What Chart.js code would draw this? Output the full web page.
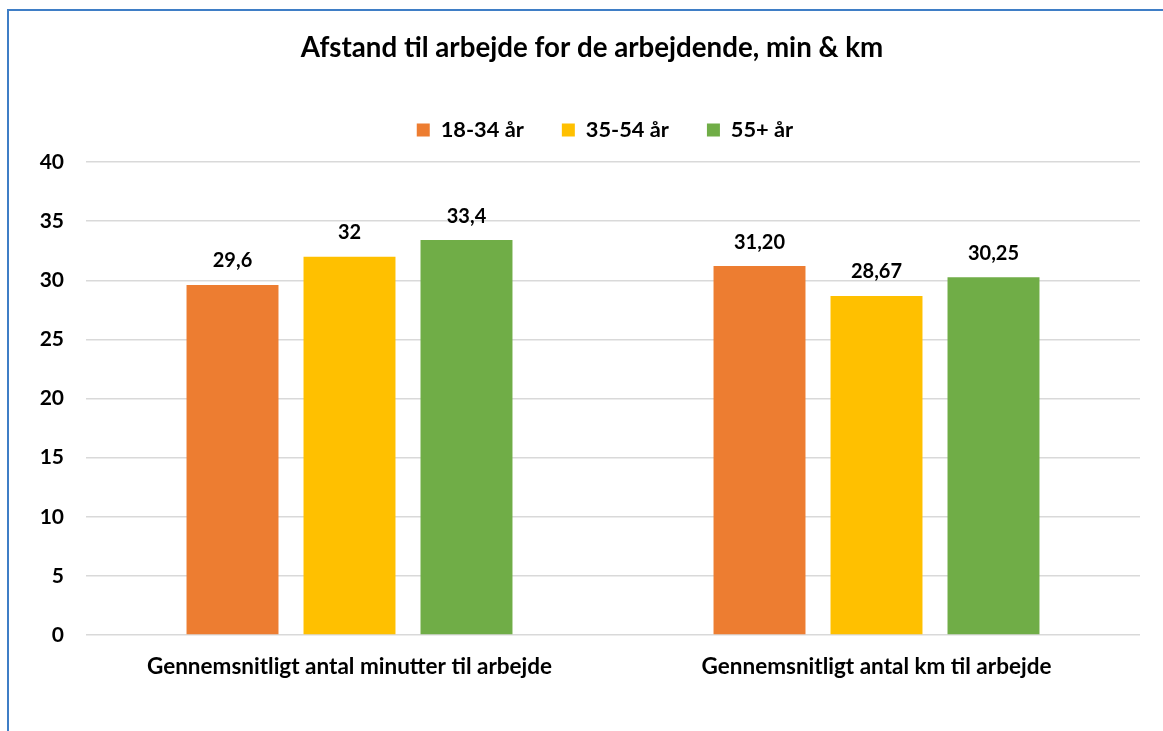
<!DOCTYPE html>
<html>
<head>
<meta charset="utf-8">
<script src="https://cdn.jsdelivr.net/npm/chart.js@4.4.0/dist/chart.umd.min.js"></script>
<style>
  html, body { margin: 0; padding: 0; background: #fff; overflow: hidden; }
  #wrap { position: relative; width: 1163px; height: 731px; }
  #ramme { position: absolute; left: 7px; top: 9px; right: -10px; bottom: -10px;
           border-left: 2px solid #3f7ec6; border-top: 2px solid #3f7ec6; }
  canvas { position: absolute; left: 0; top: 0; }
</style>
</head>
<body>
<div id="wrap">
  <div id="ramme"></div>
  <canvas id="grafik" width="1163" height="731"></canvas>
</div>
<script>
// Kategorier og serier
const kategorier = ["Gennemsnitligt antal minutter til arbejde", "Gennemsnitligt antal km til arbejde"];
const serieNavne = ["18-34 år", "35-54 år", "55+ år"];
const aar18_34 = [29.6, 31.20];
const aar35_54 = [32, 28.67];
const aar55plus = [33.4, 30.25];
const decimaler = [null, 2]; // antal decimaler i etiketter pr. kategori
const yTicks = [0, 5, 10, 15, 20, 25, 30, 35, 40];

const farver = ["#ED7D31", "#FFC000", "#70AD47"];
const skrift = "Lato, 'Open Sans', sans-serif";

function formater(v, i) {
  const s = decimaler[i] == null ? String(v) : v.toFixed(decimaler[i]);
  return s.replace(".", ",");
}

// Tegner værdierne over søjlerne
const vaerdiEtiketter = {
  id: "vaerdiEtiketter",
  afterDatasetsDraw(chart) {
    const ctx = chart.ctx;
    ctx.save();
    ctx.font = "bold 20px " + skrift;
    ctx.fillStyle = "#000";
    ctx.textAlign = "center";
    ctx.textBaseline = "bottom";
    chart.data.datasets.forEach((ds, d) => {
      chart.getDatasetMeta(d).data.forEach((bar, i) => {
        ctx.fillText(formater(ds.data[i], i), bar.x, bar.y - 14);
      });
    });
    ctx.restore();
  }
};

// Legenden: bred afstand mellem punkterne, lidt ekstra luft under.
// Titel og legende ligger lidt til højre for midten, som i Excel-figuren.
const justerTop = {
  id: "justerTop",
  beforeInit(chart) {
    const lg = chart.legend;
    if (!lg) return;
    const orig = lg.fit;
    lg.fit = function () {
      orig.call(this);
      this.height += 11.1;
    };
  },
  afterLayout(chart) {
    if (chart.titleBlock) {
      chart.titleBlock.left += 22;
      chart.titleBlock.right += 22;
    }
    if (chart.legend) {
      chart.legend.left += 35;
      chart.legend.right += 35;
    }
  }
};

const ctx = document.getElementById("grafik").getContext("2d");
new Chart(ctx, {
  type: "bar",
  data: {
    labels: kategorier,
    datasets: [
      { label: serieNavne[0], data: aar18_34, backgroundColor: farver[0] },
      { label: serieNavne[1], data: aar35_54, backgroundColor: farver[1] },
      { label: serieNavne[2], data: aar55plus, backgroundColor: farver[2] }
    ]
  },
  options: {
    responsive: false,
    animation: false,
    layout: { padding: { left: 0, right: 23, top: 0, bottom: 0 } },
    datasets: { bar: { categoryPercentage: 0.666, barPercentage: 0.786 } },
    plugins: {
      title: {
        display: true,
        text: "Afstand til arbejde for de arbejdende, min & km",
        color: "#000",
        font: { family: skrift, size: 27.7, weight: "bold" },
        padding: { top: 31.4, bottom: 16.5 }
      },
      legend: {
        position: "top",
        labels: {
          color: "#000",
          font: { family: skrift, size: 21.8, weight: "bold" },
          boxWidth: 13,
          boxHeight: 13,
          padding: 38
        }
      },
      tooltip: { enabled: false }
    },
    scales: {
      y: {
        min: 0,
        max: 40,
        afterBuildTicks(scale) { scale.ticks = yTicks.map(v => ({ value: v })); },
        afterFit(scale) { scale.width = 86; },
        ticks: {
          color: "#000",
          padding: 22,
          font: { family: skrift, size: 21, weight: "bold" }
        },
        grid: { color: "#d9d9d9", lineWidth: 1.5, drawTicks: false },
        border: { display: false }
      },
      x: {
        afterFit(scale) { scale.height = 96; },
        ticks: {
          color: "#000",
          padding: 18,
          maxRotation: 0,
          font: { family: skrift, size: 22.5, weight: "bold" }
        },
        grid: { display: false, drawTicks: false },
        border: { display: false }
      }
    }
  },
  plugins: [vaerdiEtiketter, justerTop]
});
</script>
</body>
</html>
